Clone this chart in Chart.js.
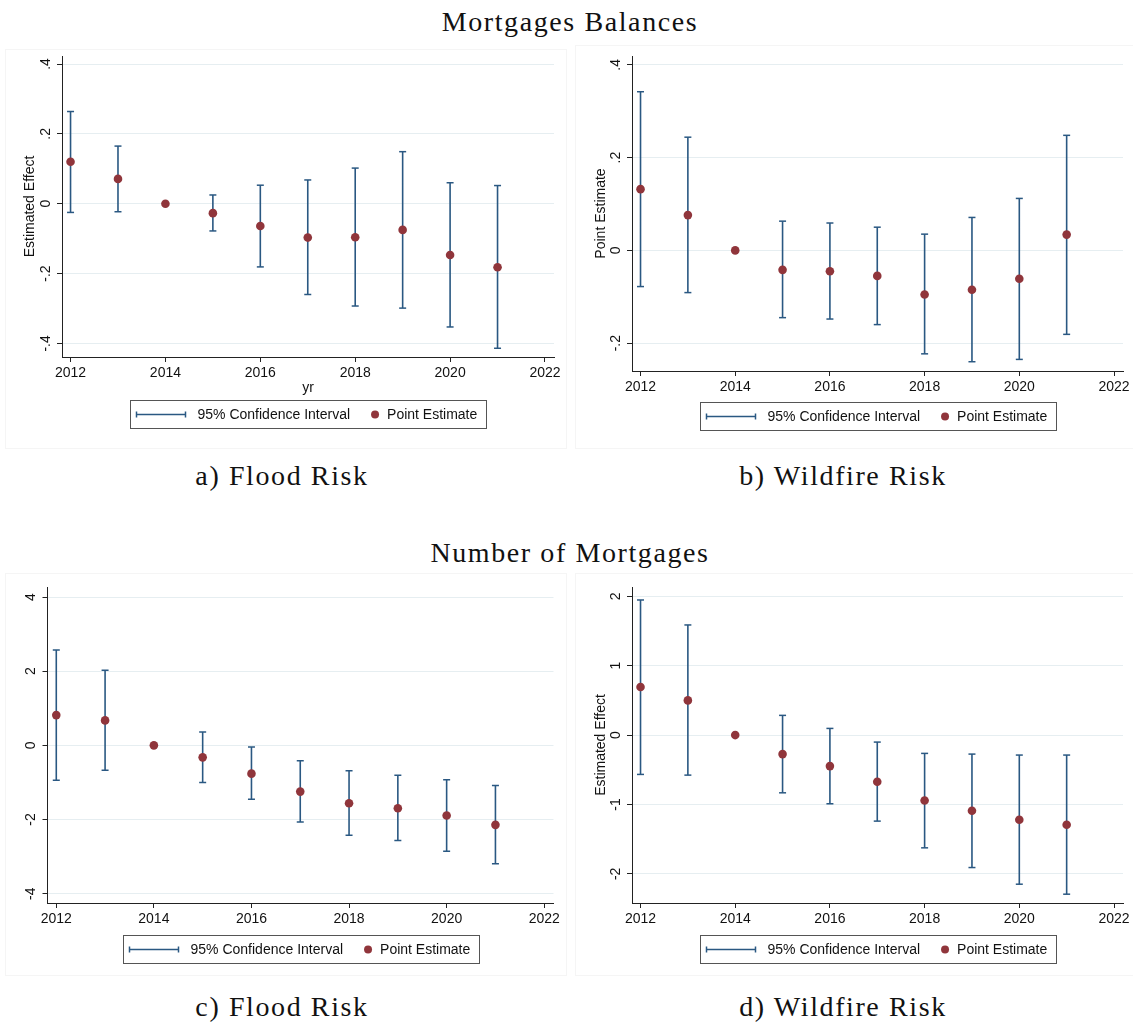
<!DOCTYPE html>
<html>
<head>
<meta charset="utf-8">
<script src="https://cdn.jsdelivr.net/npm/chart.js@4.4.0/dist/chart.umd.min.js"></script>
<style>
  body { margin: 0; background: #fff; width: 1133px; height: 1026px; position: relative; overflow: hidden; }
  .cap { position: absolute; font-family: "Liberation Serif", serif; font-size: 28px; letter-spacing: 1.6px;
         color: #111; transform: translate(-50%, -50%); white-space: nowrap; }
  .panel { position: absolute; outline: 1px solid #f5f5f5; }
</style>
</head>
<body>
<div class="cap" style="left:570px;top:22px">Mortgages Balances</div>
<div class="cap" style="left:282px;top:476px">a) Flood Risk</div>
<div class="cap" style="left:843px;top:476px">b) Wildfire Risk</div>
<div class="cap" style="left:570px;top:553px">Number of Mortgages</div>
<div class="cap" style="left:282px;top:1007px">c) Flood Risk</div>
<div class="cap" style="left:843px;top:1007px">d) Wildfire Risk</div>

<div class="panel" id="pa" style="left:6px;top:50px;width:560px;height:398px"><canvas id="ca"></canvas></div>
<div class="panel" id="pb" style="left:576px;top:46px;width:557px;height:402px"><canvas id="cb"></canvas></div>
<div class="panel" id="pc" style="left:6px;top:574px;width:560px;height:401px"><canvas id="cc"></canvas></div>
<div class="panel" id="pd" style="left:576px;top:574px;width:557px;height:401px"><canvas id="cd"></canvas></div>

<script>
const years = [2012, 2013, 2014, 2015, 2016, 2017, 2018, 2019, 2020, 2021];
const xTicks = [2012, 2014, 2016, 2018, 2020, 2022];

// a) mortgage balances, flood risk
const balFloodEst = [0.120, 0.071, 0, -0.027, -0.064, -0.097, -0.096, -0.075, -0.147, -0.182];
const balFloodLo  = [-0.025, -0.023, null, -0.078, -0.181, -0.260, -0.293, -0.299, -0.353, -0.414];
const balFloodHi  = [0.264, 0.165, null, 0.025, 0.053, 0.068, 0.102, 0.149, 0.060, 0.052];
const balFloodTicks = [-0.4, -0.2, 0, 0.2, 0.4];

// b) mortgage balances, wildfire risk
const balFireEst = [0.132, 0.076, 0, -0.042, -0.045, -0.055, -0.095, -0.085, -0.061, 0.034];
const balFireLo  = [-0.078, -0.091, null, -0.145, -0.148, -0.160, -0.223, -0.240, -0.235, -0.181];
const balFireHi  = [0.342, 0.244, null, 0.063, 0.059, 0.050, 0.035, 0.071, 0.112, 0.248];
const balFireTicks = [-0.2, 0, 0.2, 0.4];

// c) number of mortgages, flood risk
const numFloodEst = [0.816, 0.673, 0, -0.323, -0.762, -1.247, -1.561, -1.695, -1.892, -2.143];
const numFloodLo  = [-0.942, -0.673, null, -1.004, -1.453, -2.063, -2.422, -2.565, -2.852, -3.193];
const numFloodHi  = [2.574, 2.027, null, 0.359, -0.045, -0.413, -0.682, -0.807, -0.924, -1.085];
const numFloodTicks = [-4, -2, 0, 2, 4];

// d) number of mortgages, wildfire risk
const numFireEst = [0.692, 0.500, 0, -0.274, -0.447, -0.673, -0.942, -1.091, -1.221, -1.293];
const numFireLo  = [-0.567, -0.577, null, -0.832, -0.990, -1.240, -1.625, -1.909, -2.149, -2.293];
const numFireHi  = [1.947, 1.587, null, 0.284, 0.096, -0.101, -0.264, -0.274, -0.288, -0.288];
const numFireTicks = [-2, -1, 0, 1, 2];

const ciLabel = '95% Confidence Interval';
const ptLabel = 'Point Estimate';

const CI_COLOR = '#2a5882';
const PT_COLOR = '#90353b';
const AXIS_COLOR = '#222';
const GRID_COLOR = '#e6eef1';
const SANS = '"Liberation Sans", Arial, sans-serif';

// stata style numbers: .4, -.2, 0
function fmt(v) {
  if (v === 0) return '0';
  return String(+v.toFixed(2)).replace(/^(-?)0\./, '$1.');
}

function makePanel(canvasId, frame, plot, p) {
  const ciData = [], capData = [];
  years.forEach((yr, i) => {
    if (p.lo[i] === null) return;
    ciData.push({ x: yr, y: p.lo[i] }, { x: yr, y: p.hi[i] }, { x: yr, y: null });
    capData.push({ x: yr, y: p.lo[i] }, { x: yr, y: p.hi[i] });
  });
  const ptData = years.map((yr, i) => ({ x: yr, y: p.est[i] }));

  const textPlugin = {
    id: 'stataText',
    afterDraw(chart) {
      const ctx = chart.ctx, ys = chart.scales.y, area = chart.chartArea;
      ctx.save();
      ctx.fillStyle = '#111';
      ctx.font = '14px ' + SANS;
      ctx.textAlign = 'center';
      ctx.textBaseline = 'middle';
      ys.ticks.forEach(t => {
        ctx.save();
        ctx.translate(area.left - 16, ys.getPixelForValue(t.value));
        ctx.rotate(-Math.PI / 2);
        ctx.fillText(fmt(t.value), 0, 0);
        ctx.restore();
      });
      const midX = (area.left + area.right) / 2;
      if (p.yTitle) {
        ctx.save();
        ctx.translate(p.yTitleX - frame.l, (area.top + area.bottom) / 2);
        ctx.rotate(-Math.PI / 2);
        ctx.fillText(p.yTitle, 0, 0);
        ctx.restore();
      }
      if (p.xTitle) ctx.fillText(p.xTitle, midX, p.xTitleY - frame.t);

      // legend box
      const w1 = ctx.measureText(ciLabel).width, w2 = ctx.measureText(ptLabel).width;
      const bw = 6 + 49 + 12 + w1 + 25 + 12 + w2 + 9, bh = 28;
      const bx = Math.round(midX - bw / 2) + 0.5, by = Math.round(p.legendTop - frame.t) + 0.5;
      ctx.strokeStyle = '#555';
      ctx.lineWidth = 1;
      ctx.strokeRect(bx, by, Math.round(bw), bh);
      const my = by + bh / 2;
      ctx.strokeStyle = CI_COLOR;
      ctx.lineWidth = 1.5;
      ctx.beginPath();
      ctx.moveTo(bx + 6, my); ctx.lineTo(bx + 55, my);
      ctx.moveTo(bx + 6, my - 3); ctx.lineTo(bx + 6, my + 3);
      ctx.moveTo(bx + 55, my - 3); ctx.lineTo(bx + 55, my + 3);
      ctx.stroke();
      ctx.textAlign = 'left';
      ctx.fillText(ciLabel, bx + 67, my + 1);
      const dx = bx + 67 + w1 + 25;
      ctx.fillStyle = PT_COLOR;
      ctx.beginPath(); ctx.arc(dx, my, 4, 0, Math.PI * 2); ctx.fill();
      ctx.fillStyle = '#111';
      ctx.fillText(ptLabel, dx + 12, my + 1);
      ctx.restore();
    }
  };

  return new Chart(document.getElementById(canvasId), {
    type: 'scatter',
    data: {
      datasets: [
        { type: 'scatter', label: ptLabel, data: ptData, pointRadius: 4.3, pointHoverRadius: 4.3,
          backgroundColor: PT_COLOR, borderWidth: 0, order: 0 },
        { type: 'scatter', label: 'caps', data: capData, pointStyle: 'line', pointRadius: 3.5,
          borderColor: CI_COLOR, borderWidth: 1.5, order: 1 },
        { type: 'line', label: ciLabel, data: ciData, borderColor: CI_COLOR, borderWidth: 1.6,
          pointRadius: 0, spanGaps: false, fill: false, order: 2 }
      ]
    },
    options: {
      responsive: true,
      maintainAspectRatio: false,
      animation: false,
      events: [],
      layout: {
        padding: {
          left: 0,
          top: plot.t - frame.t,
          right: frame.l + frame.w - plot.r,
          bottom: frame.t + frame.h - plot.b - 30
        }
      },
      plugins: { legend: { display: false }, tooltip: { enabled: false } },
      scales: {
        x: {
          type: 'linear', min: 2011.82, max: 2022.19,
          afterBuildTicks: s => { s.ticks = xTicks.map(v => ({ value: v })); },
          afterFit: s => { s.height = 30; s.paddingLeft = 0; s.paddingRight = 0; },
          ticks: { color: '#111', font: { family: SANS, size: 14 }, padding: 3, maxRotation: 0,
                   callback: v => String(v) },
          grid: { drawOnChartArea: false, tickLength: 5, tickColor: AXIS_COLOR },
          border: { color: AXIS_COLOR, width: 1 }
        },
        y: {
          type: 'linear', min: p.ymin, max: p.ymax,
          afterBuildTicks: s => { s.ticks = p.ticks.map(v => ({ value: v })); },
          afterFit: s => { s.width = plot.l - frame.l; },
          ticks: { display: false },
          grid: { color: GRID_COLOR, lineWidth: 1, tickLength: 5, tickColor: AXIS_COLOR },
          border: { color: AXIS_COLOR, width: 1 }
        }
      }
    },
    plugins: [textPlugin]
  });
}

makePanel('ca', { l: 6, t: 50, w: 560, h: 398 }, { l: 62, t: 56, r: 554, b: 357 }, {
  est: balFloodEst, lo: balFloodLo, hi: balFloodHi, ticks: balFloodTicks, ymin: -0.439, ymax: 0.423,
  yTitle: 'Estimated Effect', yTitleX: 30, xTitle: 'yr', xTitleY: 388, legendTop: 400
});
makePanel('cb', { l: 576, t: 46, w: 557, h: 402 }, { l: 632, t: 56, r: 1123, b: 371 }, {
  est: balFireEst, lo: balFireLo, hi: balFireHi, ticks: balFireTicks, ymin: -0.26, ymax: 0.419,
  yTitle: 'Point Estimate', yTitleX: 601, legendTop: 402
});
makePanel('cc', { l: 6, t: 574, w: 560, h: 401 }, { l: 47.5, t: 587, r: 553.5, b: 903 }, {
  est: numFloodEst, lo: numFloodLo, hi: numFloodHi, ticks: numFloodTicks, ymin: -4.25, ymax: 4.27,
  legendTop: 935
});
makePanel('cd', { l: 576, t: 574, w: 557, h: 401 }, { l: 632, t: 587, r: 1123, b: 903 }, {
  est: numFireEst, lo: numFireLo, hi: numFireHi, ticks: numFireTicks, ymin: -2.42, ymax: 2.134,
  yTitle: 'Estimated Effect', yTitleX: 601, legendTop: 935
});
</script>
</body>
</html>
